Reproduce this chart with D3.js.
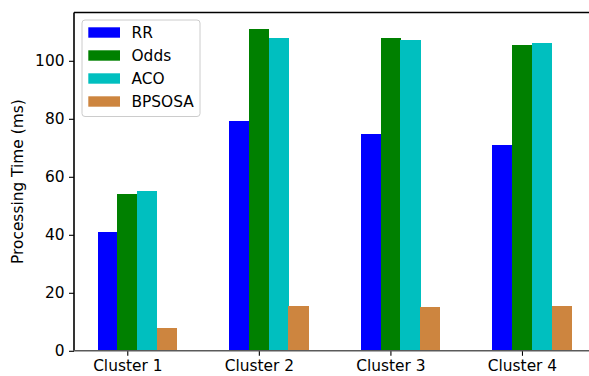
<!DOCTYPE html>
<html><head><meta charset="utf-8">
<script src="https://cdn.jsdelivr.net/npm/d3@7"></script>
<style>body{margin:0;background:#fff}svg{display:block}text{font-family:"DejaVu Sans",sans-serif}</style>
</head><body>
<script>
const categories = ["Cluster 1","Cluster 2","Cluster 3","Cluster 4"];
const seriesNames = ["RR","Odds","ACO","BPSOSA"];
const seriesColors = ["#0000ff","#008000","#00bfbf","#cd853f"];
const RR = [41, 79.1, 74.6, 70.8];
const Odds = [54, 111.1, 107.7, 105.3];
const ACO = [55, 107.9, 107.3, 106.3];
const BPSOSA = [8, 15.4, 15.1, 15.4];
const yTicks = [0,20,40,60,80,100];
const series = [RR, Odds, ACO, BPSOSA];

const W = 589, H = 376;
const fs = 15.4;
const m = {left:74, top:12.5, right:595, bottom:350.8};
const barW = 0.15;
const offsets = [-1,0,1,2];
const svg = d3.select("body").append("svg").attr("width",W).attr("height",H);

const x = d3.scaleLinear().domain([-0.405, 3.555]).range([m.left, m.right]);
const ymax = d3.max(series.flat())*1.05;
const y = d3.scaleLinear().domain([0, ymax]).range([m.bottom, m.top]);

// bars
series.forEach((vals, si) => {
  svg.append("g").attr("shape-rendering","crispEdges").selectAll("rect").data(vals).join("rect")
    .attr("x", (d,i) => x(i + offsets[si]*barW - barW/2))
    .attr("width", (d,i) => x(i + offsets[si]*barW + barW/2) - x(i + offsets[si]*barW - barW/2) + 0.5)
    .attr("y", d => y(d))
    .attr("height", d => y(0) - y(d))
    .attr("fill", seriesColors[si]);
});

// y axis
const ya = svg.append("g").attr("transform",`translate(${m.left},0)`)
  .call(d3.axisLeft(y).tickValues(yTicks).tickSize(5).tickPadding(4.5).tickFormat(d3.format("d")));
ya.select(".domain").remove();
ya.selectAll("line").attr("stroke","#000").attr("stroke-width",1.1);
ya.selectAll("text").attr("font-size",fs).attr("fill","#000").attr("font-family","DejaVu Sans");

// x axis
const xa = svg.append("g").attr("transform",`translate(0,${m.bottom})`)
  .call(d3.axisBottom(x).tickValues(d3.range(categories.length)).tickSize(5).tickPadding(4.5).tickFormat(i => categories[i]));
xa.select(".domain").remove();
xa.selectAll("line").attr("stroke","#000").attr("stroke-width",1.1);
xa.selectAll("text").attr("font-size",fs).attr("fill","#000").attr("font-family","DejaVu Sans");

// spines
svg.append("line").attr("x1",m.left).attr("x2",m.right).attr("y1",m.top).attr("y2",m.top).attr("stroke","#000").attr("stroke-width",1.6);
svg.append("line").attr("x1",m.left).attr("x2",m.left).attr("y1",m.top).attr("y2",m.bottom).attr("stroke","#000").attr("stroke-width",1.6);
svg.append("line").attr("x1",m.left).attr("x2",m.right).attr("y1",m.bottom).attr("y2",m.bottom).attr("stroke","#5a5a5a").attr("stroke-width",1.6);

// y label
svg.append("text").attr("transform",`translate(23,${(m.top+m.bottom)/2}) rotate(-90)`)
  .attr("text-anchor","middle").attr("font-size",fs).text("Processing Time (ms)");

// legend
const lg = svg.append("g");
lg.append("rect").attr("x",82).attr("y",20).attr("width",118).attr("height",96.5).attr("rx",3)
  .attr("fill","#fff").attr("fill-opacity",0.8).attr("stroke","#cccccc").attr("stroke-width",1);
seriesNames.forEach((n,i) => {
  const cy = 32.5 + i*23;
  lg.append("rect").attr("x",88.3).attr("y",cy-5.2).attr("width",31.7).attr("height",10.4).attr("fill",seriesColors[i]);
  lg.append("text").attr("x",131.5).attr("y",cy).attr("dy","0.36em").attr("font-size",fs).text(n);
});
</script>
</body></html>
